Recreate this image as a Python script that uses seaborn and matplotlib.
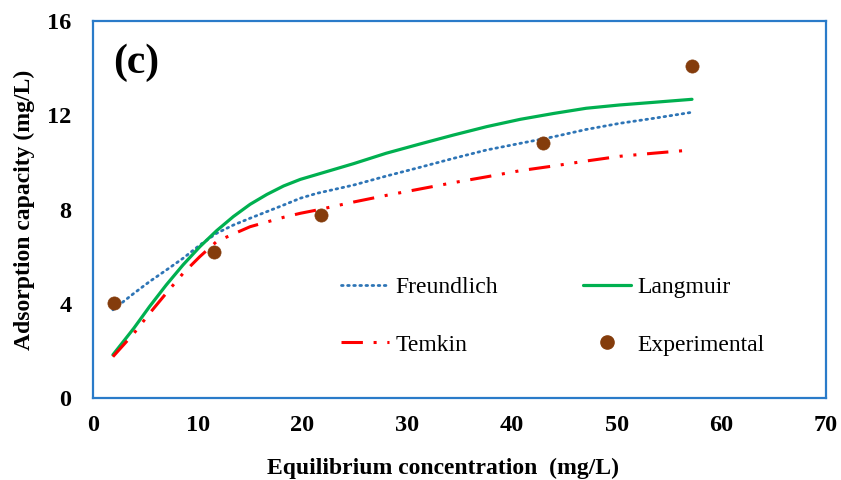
import numpy as np
import pandas as pd
import seaborn as sns
import matplotlib
matplotlib.use("Agg")
import matplotlib.pyplot as plt
from matplotlib.ticker import MultipleLocator
from matplotlib.lines import Line2D

# ---- data ----
exp_x = [2.0, 11.6, 21.8, 43.0, 57.2]
exp_y = [4.05, 6.18, 7.77, 10.83, 14.1]

curve_x = [1.9, 3.9, 5.4, 7.0, 8.6, 10.2, 11.8, 13.4, 15.0, 16.6, 18.2, 19.8,
           21.4, 24.9, 28.0, 31.2, 34.4, 37.6, 40.8, 44.0, 47.1, 50.3, 53.5, 57.2]

freund_y = [3.74, 4.44, 4.94, 5.43, 5.93, 6.49, 6.99, 7.34, 7.63, 7.91, 8.19, 8.48,
            8.69, 9.04, 9.42, 9.79, 10.17, 10.53, 10.81, 11.09, 11.40, 11.66, 11.87, 12.13]

lang_y = [1.83, 2.96, 3.88, 4.80, 5.65, 6.42, 7.10, 7.70, 8.22, 8.64, 9.00, 9.28,
          9.49, 9.95, 10.39, 10.78, 11.16, 11.52, 11.83, 12.08, 12.30, 12.44, 12.55, 12.68]

temkin_y = [1.75, 2.74, 3.59, 4.45, 5.29, 6.00, 6.64, 6.96, 7.27, 7.47, 7.67, 7.84,
            7.98, 8.32, 8.60, 8.87, 9.14, 9.39, 9.65, 9.85, 10.06, 10.26, 10.39, 10.53]

x_ticks = [0, 10, 20, 30, 40, 50, 60, 70]
y_ticks = [0, 4, 8, 12, 16]

# ---- style ----
sns.set_style("white")
plt.rcParams["font.family"] = ["Liberation Serif", "DejaVu Serif"]
plt.rcParams["text.color"] = "black"
plt.rcParams["axes.labelcolor"] = "black"
plt.rcParams["xtick.labelcolor"] = "black"
plt.rcParams["ytick.labelcolor"] = "black"

BLUE_AX = "#2A7BC9"
C_FREUND = "#2E75B6"
C_LANG = "#00B050"
C_TEMKIN = "#FF0000"
C_EXP = "#843C0C"

FREUND_LS = (0, (0.6, 1.6))
TEMKIN_LS = (0, (7, 3.5, 1, 3.5, 1, 3.5))

fig = plt.figure(figsize=(8.41, 4.80), dpi=100)
ax = fig.add_axes([0.1106, 0.171, 0.8716, 0.785])

df_f = pd.DataFrame({"x": curve_x, "y": freund_y})
df_l = pd.DataFrame({"x": curve_x, "y": lang_y})
df_t = pd.DataFrame({"x": curve_x, "y": temkin_y})
df_e = pd.DataFrame({"x": exp_x, "y": exp_y})

sns.lineplot(data=df_f, x="x", y="y", ax=ax, color=C_FREUND, lw=2.0,
             linestyle=FREUND_LS, dash_capstyle="round", sort=False)
sns.lineplot(data=df_l, x="x", y="y", ax=ax, color=C_LANG, lw=2.3, sort=False)
sns.lineplot(data=df_t, x="x", y="y", ax=ax, color=C_TEMKIN, lw=2.2,
             linestyle=TEMKIN_LS, sort=False)
sns.scatterplot(data=df_e, x="x", y="y", ax=ax, color=C_EXP, s=90,
                edgecolor=C_EXP, linewidth=0.5, zorder=5)

ax.set_xlim(0, 70)
ax.set_ylim(0, 16)
ax.set_xticks(x_ticks)
ax.set_yticks(y_ticks)
ax.xaxis.set_minor_locator(MultipleLocator(5))
ax.yaxis.set_minor_locator(MultipleLocator(2))

for sp in ax.spines.values():
    sp.set_color(BLUE_AX)
    sp.set_linewidth(1.6)
    sp.set_visible(True)

ax.tick_params(axis="both", which="both", direction="in", length=5, width=1.4,
               color=BLUE_AX, top=False, right=False)
ax.tick_params(axis="y", which="major", pad=15.5, labelsize=17.5, labelcolor="black")
ax.tick_params(axis="x", which="major", pad=12, labelsize=17.5, labelcolor="black")
for lab in ax.get_xticklabels() + ax.get_yticklabels():
    lab.set_fontweight("bold")

ax.set_xlabel("Equilibrium concentration  (mg/L)", fontsize=17, fontweight="bold",
              color="black")
ax.set_ylabel("Adsorption capacity (mg/L)", fontsize=17, fontweight="bold",
              color="black")
ax.xaxis.set_label_coords(0.4775, -0.16)
ax.yaxis.set_label_coords(-0.079, 0.5)

ax.text(0.027, 0.94, "(c)", transform=ax.transAxes, fontsize=30,
        fontweight="bold", va="top", ha="left", color="black")

handles = [
    Line2D([], [], color=C_FREUND, lw=2.0, linestyle=FREUND_LS, dash_capstyle="round"),
    Line2D([], [], color=C_TEMKIN, lw=2.2, linestyle=TEMKIN_LS),
    Line2D([], [], color=C_LANG, lw=2.3),
    Line2D([], [], color=C_EXP, marker="o", linestyle="none", markersize=9.5),
]
labels = ["Freundlich", "Temkin", "Langmuir", "Experimental"]
leg = ax.legend(handles, labels, ncol=2, frameon=False, loc="upper left",
                bbox_to_anchor=(0.31, 0.378), fontsize=17, handlelength=2.0,
                handletextpad=0.3, labelspacing=1.52, columnspacing=3.6)
for t in leg.get_texts():
    t.set_color("black")

fig.savefig("out.png", dpi=100)
